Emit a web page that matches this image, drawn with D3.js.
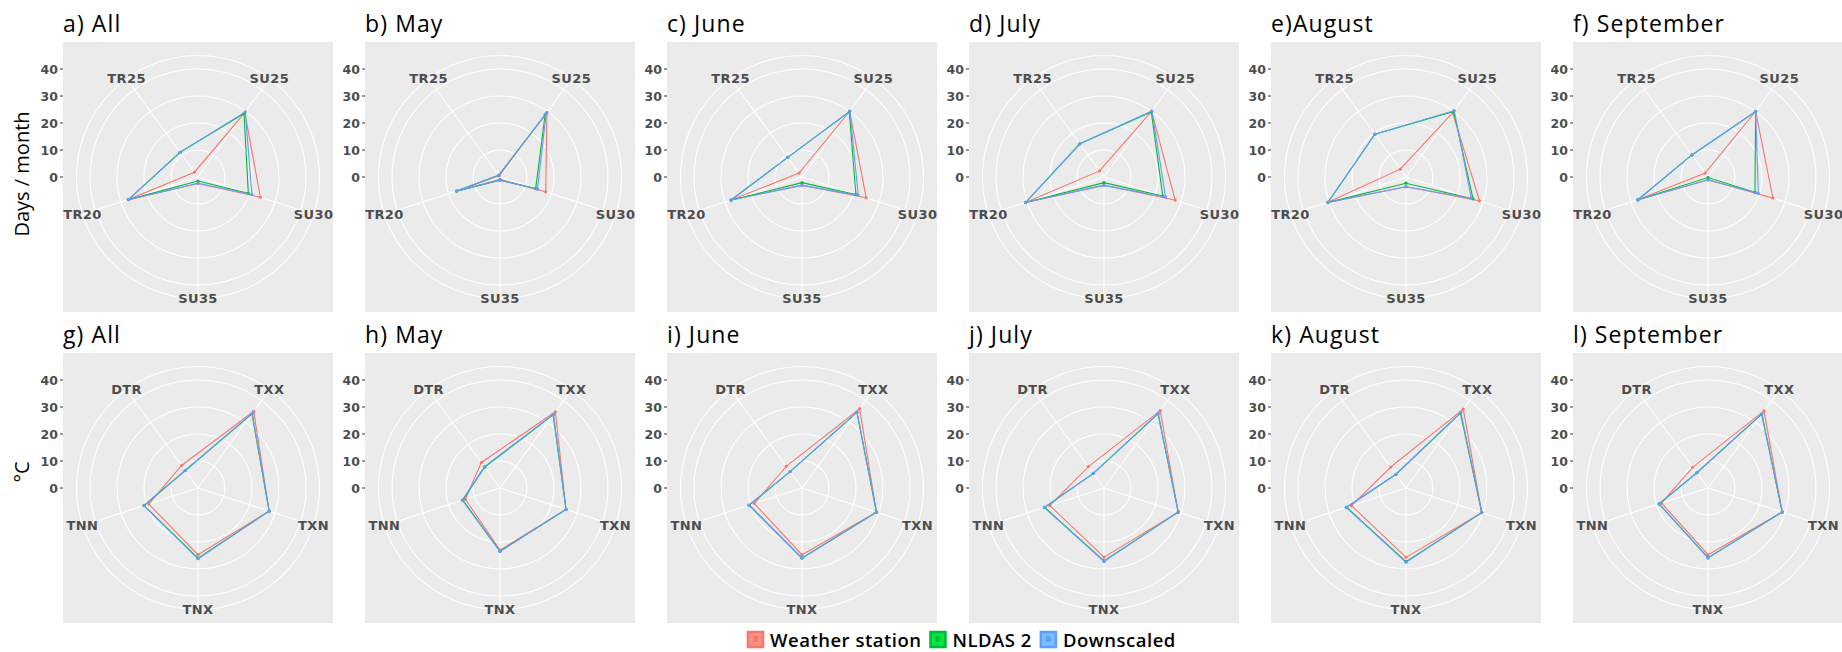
<!DOCTYPE html>
<html>
<head>
<meta charset="utf-8">
<script src="https://cdn.jsdelivr.net/npm/d3@7"></script>
<style>
  html, body { margin: 0; padding: 0; background: #ffffff; }
  svg { display: block; }
</style>
</head>
<body>
<svg id="chart" width="1842" height="652"></svg>
<script>
// Climate index categories (radar axes), clockwise from the top
const topCategories = ["SU25", "SU30", "SU35", "TR20", "TR25"];
const bottomCategories = ["TXX", "TXN", "TNX", "TNN", "DTR"];

const topTitles = ["a) All", "b) May", "c) June", "d) July", "e)August", "f) September"];
const bottomTitles = ["g) All", "h) May", "i) June", "j) July", "k) August", "l) September"];

const seriesNames = ["Weather station", "NLDAS 2", "Downscaled"];
const seriesColors = ["#F8766D", "#00BA38", "#619CFF"];

const radialTicks = [0, 10, 20, 30, 40];

// Days / month, one row per panel (All, May, June, July, August, September),
// values in topCategories order
const stationDays = [
  [29.5, 24.3, 2.4, 27.1, 2.2],
  [29.6, 17.8, 0.9, 16.9, 0.5],
  [30.0, 25.0, 3.0, 27.6, 1.8],
  [30.0, 27.7, 3.0, 30.5, 2.8],
  [29.4, 28.6, 3.6, 30.4, 3.6],
  [30.0, 25.3, 1.0, 27.3, 1.8]
];
const nldasDays = [
  [29.0, 19.6, 1.5, 27.1, 11.3],
  [28.4, 13.9, 1.2, 16.9, 0.8],
  [29.8, 21.0, 2.1, 27.6, 9.0],
  [29.8, 22.9, 2.1, 30.5, 15.2],
  [30.0, 26.1, 2.3, 30.4, 19.6],
  [30.0, 18.3, 0.2, 27.3, 10.1]
];
const downscaledDays = [
  [29.8, 21.0, 2.3, 27.1, 11.3],
  [29.1, 14.6, 1.1, 16.9, 0.8],
  [30.2, 21.9, 3.1, 27.6, 9.0],
  [30.2, 24.0, 3.1, 30.5, 15.2],
  [30.4, 25.4, 3.6, 30.4, 19.6],
  [30.0, 19.6, 1.1, 27.3, 10.1]
];

// Temperatures in °C, values in bottomCategories order
const stationTemp = [
  [35.1, 27.7, 24.7, 19.2, 10.3],
  [34.9, 25.7, 23.0, 13.5, 11.7],
  [36.3, 29.0, 24.7, 18.6, 9.9],
  [35.4, 28.9, 25.6, 21.1, 9.8],
  [36.1, 29.5, 25.7, 21.2, 9.6],
  [35.3, 28.9, 24.7, 18.1, 9.6]
];
const nldasTemp = [
  [34.0, 27.7, 26.0, 21.0, 8.0],
  [33.5, 25.7, 23.4, 14.5, 9.6],
  [34.6, 29.0, 25.9, 20.5, 7.5],
  [34.0, 28.9, 27.0, 23.1, 6.7],
  [34.3, 29.5, 27.3, 23.1, 6.3],
  [33.8, 28.9, 25.8, 19.0, 7.0]
];
const downscaledTemp = [
  [34.2, 27.7, 26.2, 21.1, 8.1],
  [33.7, 25.7, 23.5, 14.7, 9.8],
  [34.7, 29.0, 26.0, 20.7, 7.5],
  [34.2, 28.9, 27.2, 23.3, 6.7],
  [34.6, 29.5, 27.5, 23.3, 6.3],
  [34.0, 28.9, 25.9, 19.1, 7.0]
];

// ---- layout ----
const svg = d3.select("#chart");
const panelSize = 270;
const panelLeft0 = 63;
const panelStep = 302;
const rowTops = [42, 353];

const rows = [
  { cats: topCategories, titles: topTitles, data: [stationDays, nldasDays, downscaledDays], yTitle: "Days / month", yTitleY: 174 },
  { cats: bottomCategories, titles: bottomTitles, data: [stationTemp, nldasTemp, downscaledTemp], yTitle: "°C", yTitleY: 472 }
];

const rScale = d3.scaleLinear().domain([0, 40]).range([0, 0.4 * panelSize]);
const outerR = 0.45 * panelSize;

rows.forEach((row, ri) => {
  const angle = d3.scaleBand().domain(row.cats).range([0, 2 * Math.PI]);
  const theta = c => angle(c) + angle.bandwidth() / 2;

  row.titles.forEach((title, ci) => {
    const px = panelLeft0 + ci * panelStep;
    const py = rowTops[ri];
    const cx = px + panelSize / 2;
    const cy = py + panelSize / 2;

    // title
    svg.append("text")
      .attr("x", px).attr("y", py - 10)
      .attr("font-family", "'Open Sans', 'Noto Sans', sans-serif")
      .attr("font-size", 23).attr("letter-spacing", 1.1)
      .attr("fill", "#000")
      .text(title);

    // panel background
    svg.append("rect")
      .attr("x", px).attr("y", py)
      .attr("width", panelSize).attr("height", panelSize)
      .attr("fill", "#EBEBEB");

    const g = svg.append("g").attr("transform", `translate(${cx},${cy})`);

    // grid circles
    g.selectAll("circle.grid")
      .data(radialTicks.filter(t => t > 0).map(t => rScale(t)).concat([outerR]))
      .join("circle")
      .attr("r", d => d)
      .attr("fill", "none")
      .attr("stroke", "#ffffff")
      .attr("stroke-width", 1.1);

    // spokes
    g.selectAll("line.spoke")
      .data(row.cats)
      .join("line")
      .attr("x1", 0).attr("y1", 0)
      .attr("x2", d => outerR * Math.sin(theta(d)))
      .attr("y2", d => -outerR * Math.cos(theta(d)))
      .attr("stroke", "#ffffff")
      .attr("stroke-width", 1.1);

    // series polygons
    const line = d3.lineRadial()
      .angle(d => theta(d.cat))
      .radius(d => rScale(d.value))
      .curve(d3.curveLinearClosed);

    row.data.forEach((series, si) => {
      const pts = row.cats.map((cat, k) => ({ cat, value: series[ci][k] }));
      g.append("path")
        .attr("d", line(pts))
        .attr("fill", "none")
        .attr("stroke", seriesColors[si])
        .attr("stroke-width", 1.1);
      g.selectAll(null)
        .data(pts)
        .join("circle")
        .attr("cx", d => rScale(d.value) * Math.sin(theta(d.cat)))
        .attr("cy", d => -rScale(d.value) * Math.cos(theta(d.cat)))
        .attr("r", 1.6)
        .attr("fill", seriesColors[si]);
    });

    // category labels
    g.selectAll("text.cat")
      .data(row.cats)
      .join("text")
      .attr("x", d => outerR * Math.sin(theta(d)))
      .attr("y", d => -outerR * Math.cos(theta(d)))
      .attr("text-anchor", "middle")
      .attr("dominant-baseline", "central")
      .attr("font-family", "'DejaVu Sans', sans-serif")
      .attr("font-weight", "bold")
      .attr("font-size", 13)
      .attr("letter-spacing", 0.4)
      .attr("fill", "#4D4D4D")
      .text(d => d);

    // radial axis on the left edge
    const ax = svg.append("g");
    ax.selectAll("line")
      .data(radialTicks)
      .join("line")
      .attr("x1", px - 3).attr("x2", px)
      .attr("y1", d => cy - rScale(d)).attr("y2", d => cy - rScale(d))
      .attr("stroke", "#333333").attr("stroke-width", 1);
    ax.selectAll("text")
      .data(radialTicks)
      .join("text")
      .attr("x", px - 5)
      .attr("y", d => cy - rScale(d))
      .attr("text-anchor", "end")
      .attr("dominant-baseline", "central")
      .attr("font-family", "'DejaVu Sans', sans-serif")
      .attr("font-weight", "bold")
      .attr("font-size", 12.5)
      .attr("fill", "#4D4D4D")
      .text(d => d);
  });

  // y axis title
  svg.append("text")
    .attr("transform", `translate(29,${row.yTitleY}) rotate(-90)`)
    .attr("text-anchor", "middle")
    .attr("font-family", "'Open Sans', 'Noto Sans', sans-serif")
    .attr("font-size", 20)
    .attr("fill", "#000")
    .text(row.yTitle);
});

// ---- legend ----
const legend = svg.append("g").attr("transform", "translate(747,639)");
let lx = 0;
seriesNames.forEach((name, i) => {
  const item = legend.append("g").attr("transform", `translate(${lx},0)`);
  item.append("rect")
    .attr("x", 1).attr("y", -7).attr("width", 15).attr("height", 15)
    .attr("fill", d3.color(seriesColors[i]).brighter(0.6))
    .attr("stroke", seriesColors[i]).attr("stroke-width", 2.5);
  item.append("rect")
    .attr("x", 6).attr("y", -3).attr("width", 5).attr("height", 6).attr("rx", 1.5)
    .attr("fill", seriesColors[i]);
  const t = item.append("text")
    .attr("x", 23).attr("y", 0)
    .attr("dominant-baseline", "central")
    .attr("font-family", "'Open Sans', 'Noto Sans', sans-serif")
    .attr("font-weight", 600)
    .attr("font-size", 18.5)
    .attr("letter-spacing", 0.5)
    .attr("fill", "#000")
    .text(name);
  lx += 23 + t.node().getComputedTextLength() + 8;
});
</script>
</body>
</html>
